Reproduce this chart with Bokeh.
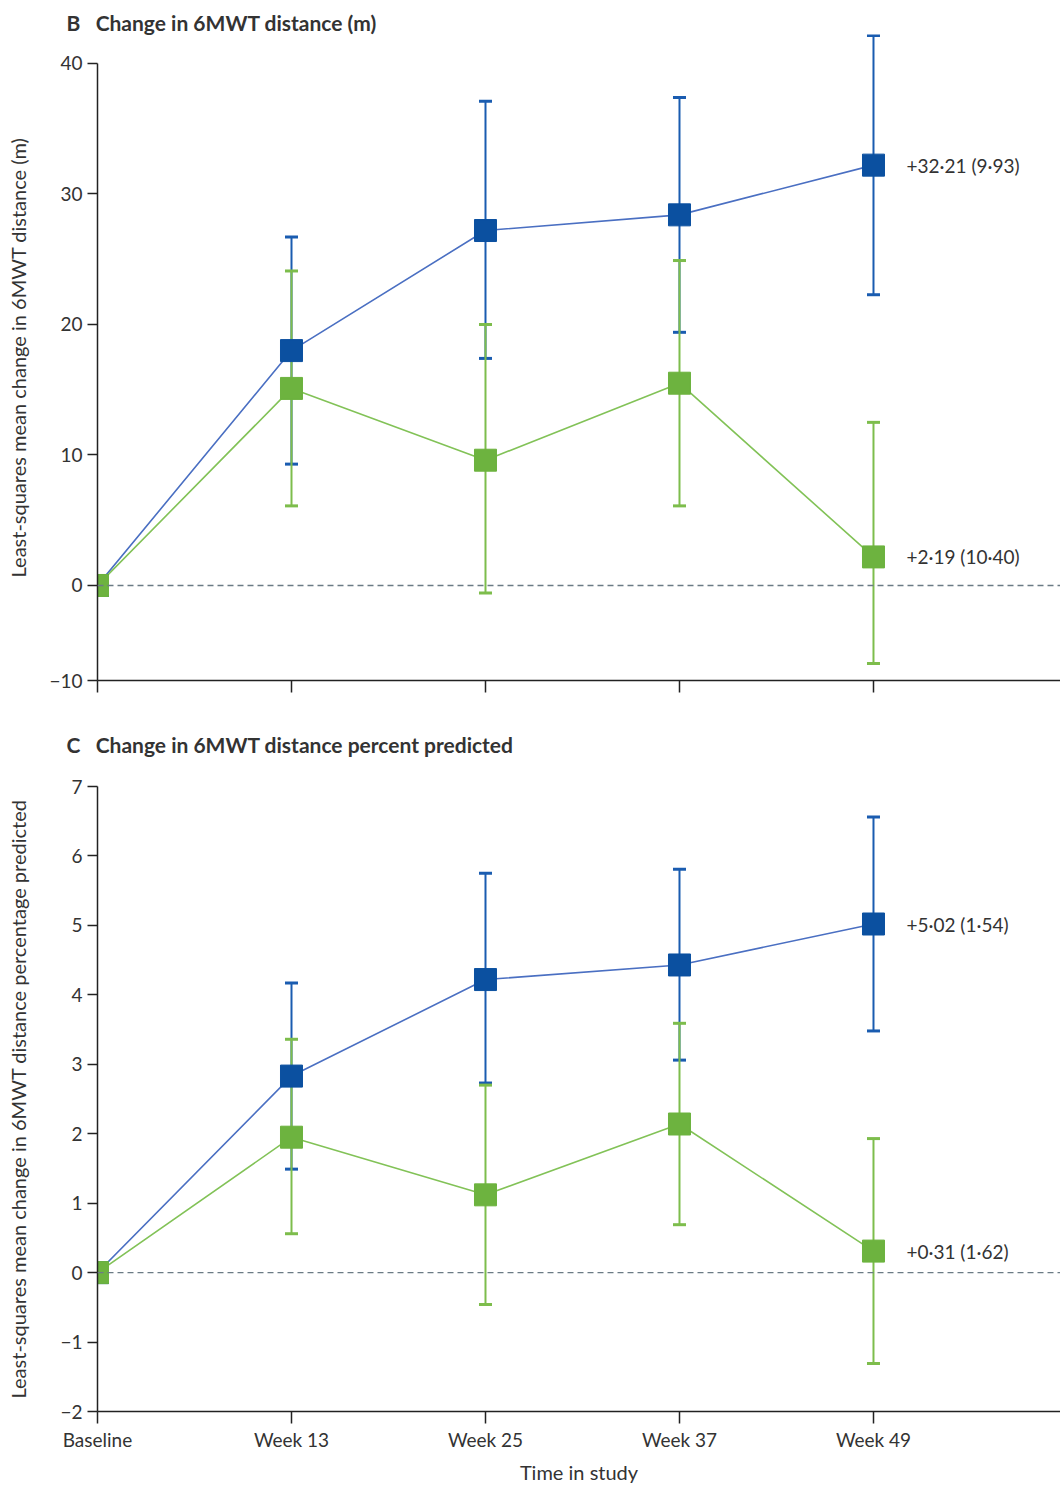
from bokeh.plotting import figure
from bokeh.layouts import column
from bokeh.models import ColumnDataSource, Range1d, FixedTicker, Span, CustomJSTransform
from bokeh.transform import transform
from bokeh.core.properties import value
from bokeh.embed import file_html
from bokeh.resources import INLINE

# ---------------- data ----------------
time_labels = ["Baseline", "Week 13", "Week 25", "Week 37", "Week 49"]

# Panel B: change in 6MWT distance (m)
b_blue_mean = [0.0, 18.0, 27.2, 28.4, 32.21]
b_blue_lo = [9.3, 17.4, 19.4, 22.28]
b_blue_hi = [26.7, 37.1, 37.4, 42.14]
b_green_mean = [0.0, 15.1, 9.6, 15.5, 2.19]
b_green_lo = [6.1, -0.8, 6.1, -8.21]
b_green_hi = [24.1, 20.0, 24.9, 12.5]
b_end_labels = ["+32·21 (9·93)", "+2·19 (10·40)"]
b_yticks = [-10, 0, 10, 20, 30, 40]

# Panel C: change in 6MWT distance percent predicted
c_blue_mean = [0.0, 2.83, 4.22, 4.43, 5.02]
c_blue_lo = [1.49, 2.73, 3.06, 3.48]
c_blue_hi = [4.17, 5.75, 5.81, 6.56]
c_green_mean = [0.0, 1.95, 1.12, 2.14, 0.31]
c_green_lo = [0.56, -0.46, 0.69, -1.31]
c_green_hi = [3.36, 2.70, 3.59, 1.93]
c_end_labels = ["+5·02 (1·54)", "+0·31 (1·62)"]
c_yticks = [-2, -1, 0, 1, 2, 3, 4, 5, 6, 7]

# ---------------- style ----------------
FONT = "Lato"
TXT = "#333333"
BLUE = "#0b50a0"
BLUE_LINE = "#4a6fc2"
BLUE_BAR = "#1a5cb0"
GREEN = "#6db33f"
GREEN_LINE = "#82c257"
GREEN_BAR = "#7dbd4c"
NEG = 0.728  # panel B draws negative values on a compressed scale
GAP = "\u00a0\u00a0\u00a0"

x_idx = list(range(len(time_labels)))


def minus(v):
    return ("−" + str(abs(v))) if v < 0 else str(v)


def make_panel(heading, ylab, blue_mean, blue_lo, blue_hi, green_mean, green_lo, green_hi,
               end_labels, yticks, ystart, yend, axis_top, height, top, bottom,
               title_standoff, label_standoff, show_x, compress):
    p = figure(width=1060, height=height, output_backend="svg", toolbar_location=None,
               x_range=Range1d(0, 4.964), y_range=Range1d(ystart, yend),
               min_border_left=97, min_border_right=0, min_border_top=top,
               min_border_bottom=bottom, outline_line_color=None, title=heading)
    p.xgrid.visible = False
    p.ygrid.visible = False

    p.title.align = "left"
    p.title.offset = -31
    p.title.text_font = FONT
    p.title.text_font_size = "21px"
    p.title.text_font_style = "bold"
    p.title.text_color = TXT
    p.title.standoff = title_standoff

    if compress:
        tf = CustomJSTransform(args=dict(k=NEG),
                               func="return x < 0 ? x * k : x",
                               v_func="return xs.map((x) => x < 0 ? x * k : x)")
        Y = lambda f: transform(f, tf)
        tick_pos = [t * NEG if t < 0 else t for t in yticks]
    else:
        Y = lambda f: f
        tick_pos = list(yticks)

    yax = p.yaxis[0]
    xax = p.xaxis[0]
    yax.ticker = FixedTicker(ticks=tick_pos)
    yax.major_label_overrides = {tp: minus(t) for tp, t in zip(tick_pos, yticks)}
    yax.bounds = (ystart, axis_top)
    xax.ticker = FixedTicker(ticks=x_idx)

    for ax in (xax, yax):
        ax.axis_line_color = "#222222"
        ax.axis_line_width = 1.5
        ax.major_tick_line_color = "#222222"
        ax.major_tick_line_width = 1.5
        ax.major_tick_in = 0
        ax.minor_tick_line_color = None
        ax.major_label_text_font = FONT
        ax.major_label_text_color = TXT
        ax.major_label_text_font_size = "19px"
        ax.axis_label_text_font = FONT
        ax.axis_label_text_font_style = "normal"
        ax.axis_label_text_color = TXT
        ax.axis_label_text_font_size = "20px"
    yax.major_tick_out = 10
    xax.major_tick_out = 12
    yax.major_label_standoff = 5
    xax.major_label_standoff = 4
    yax.axis_label = ylab
    yax.axis_label_standoff = label_standoff
    if show_x:
        xax.major_label_overrides = {i: s for i, s in zip(x_idx, time_labels)}
        xax.axis_label = "Time in study"
        xax.axis_label_standoff = 6
    else:
        xax.major_label_text_font_size = "0px"
        xax.major_label_text_color = None

    p.add_layout(Span(location=0, dimension="width", line_color="#6b7b85",
                      line_width=1.3, line_dash="6 4"))

    ex = x_idx[1:]
    for lo, hi, col in ((blue_lo, blue_hi, BLUE_BAR), (green_lo, green_hi, GREEN_BAR)):
        src = ColumnDataSource(dict(x=ex, lo=lo, hi=hi))
        p.segment(x0="x", y0=Y("lo"), x1="x", y1=Y("hi"), source=src,
                  line_color=col, line_width=2)
        p.dash(x="x", y=Y("lo"), source=src, size=13, line_color=col, line_width=3)
        p.dash(x="x", y=Y("hi"), source=src, size=13, line_color=col, line_width=3)

    bsrc = ColumnDataSource(dict(x=x_idx, y=blue_mean))
    gsrc = ColumnDataSource(dict(x=x_idx, y=green_mean))
    p.line(x="x", y=Y("y"), source=bsrc, line_color=BLUE_LINE, line_width=1.6)
    p.line(x="x", y=Y("y"), source=gsrc, line_color=GREEN_LINE, line_width=1.6)
    p.scatter(x="x", y=Y("y"), source=bsrc, marker="square", size=22,
              fill_color=BLUE, line_color=BLUE)
    p.scatter(x="x", y=Y("y"), source=gsrc, marker="square", size=22,
              fill_color=GREEN, line_color=GREEN)

    tsrc = ColumnDataSource(dict(x=[x_idx[-1], x_idx[-1]], y=[blue_mean[-1], green_mean[-1]],
                                 t=end_labels))
    p.text(x="x", y=Y("y"), text="t", source=tsrc, x_offset=33, text_align="left",
           text_baseline="middle", text_font=value(FONT), text_font_size="19px",
           text_color=TXT)
    return p


# panel B: frame top 29 px above the 40 tick's row so the top whisker is not cut
pB = make_panel("B" + GAP + "Change in 6MWT distance (m)",
                "Least-squares mean change in 6MWT distance (m)",
                b_blue_mean, b_blue_lo, b_blue_hi, b_green_mean, b_green_lo, b_green_hi,
                b_end_labels, b_yticks, -10 * NEG, 42.22, 40, 698, 34, 18, 0, 16, False, True)

pC = make_panel("C" + GAP + "Change in 6MWT distance percent predicted",
                "Least-squares mean change in 6MWT distance percentage predicted",
                c_blue_mean, c_blue_lo, c_blue_hi, c_green_mean, c_green_lo, c_green_hi,
                c_end_labels, c_yticks, -2, 7, 7, 788, 88, 73, 59, 27, True, False)

layout = column(pB, pC, spacing=0)
open("out.html", "w").write(file_html(layout, INLINE))
